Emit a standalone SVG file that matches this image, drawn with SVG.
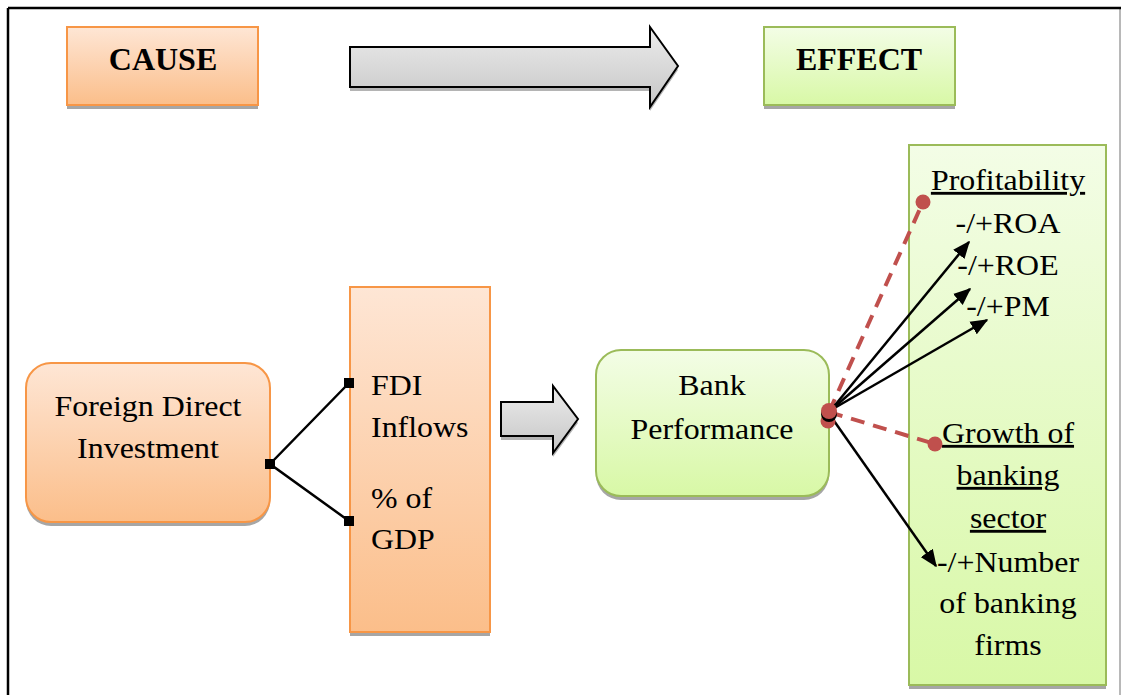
<svg xmlns="http://www.w3.org/2000/svg" width="1123" height="695" viewBox="0 0 1123 695">
<style>
.t{font-family:'Liberation Serif','Times New Roman',Times,serif;font-size:28.5px;fill:#000}
.h{font-family:'Liberation Serif','Times New Roman',Times,serif;font-size:32px;font-weight:bold;fill:#000}
.or{fill:url(#gO);stroke:#f79646;stroke-width:2}
.gr{fill:url(#gG);stroke:#9bbb59;stroke-width:2}
.sh{fill:#a6a6a6}
.bl{stroke:#000;stroke-width:2.5;fill:none}
.rd{stroke:#c0504d;stroke-width:4;fill:none;stroke-dasharray:14,9}
</style>
<defs>
<linearGradient id="gO" x1="0" y1="0" x2="0" y2="1"><stop offset="0" stop-color="#fee6d5"/><stop offset="1" stop-color="#fbbe8a"/></linearGradient>
<linearGradient id="gG" x1="0" y1="0" x2="0" y2="1"><stop offset="0" stop-color="#f3fde6"/><stop offset="1" stop-color="#d8f8a6"/></linearGradient>
<linearGradient id="gA" x1="0" y1="0" x2="0" y2="1"><stop offset="0" stop-color="#ececec"/><stop offset="1" stop-color="#c6c6c6"/></linearGradient>
<marker id="ah" viewBox="0 0 12 10" refX="11" refY="5" markerWidth="7" markerHeight="6" orient="auto" markerUnits="strokeWidth"><path d="M0,0 L12,5 L0,10 z" fill="#000"/></marker>
</defs>
<rect width="1123" height="695" fill="#fff"/>
<g id="frame">
<line x1="1120" y1="8" x2="1120" y2="695" stroke="#a0a0a0" stroke-width="1.5"/>
<line x1="8" y1="8" x2="1121" y2="8" stroke="#000" stroke-width="2.5"/>
<line x1="8" y1="8" x2="8" y2="695" stroke="#000" stroke-width="2.5"/>
</g>
<g id="cause">
<rect class="sh" x="67" y="31" width="191" height="78"/>
<rect class="or" x="67" y="27" width="191" height="78"/>
<text class="h" x="163" y="70" text-anchor="middle" font-family="Liberation Serif">CAUSE</text>
</g>
<g id="big-arrow">
<path d="M350,51 L650,51 L650,31 L678,70 L650,111 L650,91 L350,91 z" fill="#b4b4b4"/>
<path d="M350,47 L650,47 L650,27 L678,66 L650,107 L650,87 L350,87 z" fill="url(#gA)" stroke="#000" stroke-width="2"/>
</g>
<g id="effect">
<rect class="sh" x="764" y="31" width="191" height="78"/>
<rect class="gr" x="764" y="27" width="191" height="78"/>
<text class="h" x="859" y="70" text-anchor="middle" font-family="Liberation Serif">EFFECT</text>
</g>
<g id="fdi-node">
<rect class="sh" x="26" y="367" width="244" height="159" rx="25"/>
<rect class="or" x="26" y="363" width="244" height="159" rx="25"/>
<text class="t" text-anchor="middle" transform="translate(148,416) scale(1.12,1)">Foreign Direct</text>
<text class="t" text-anchor="middle" transform="translate(148,458) scale(1.12,1)">Investment</text>
</g>
<g id="measure-node">
<rect class="sh" x="350" y="291" width="140" height="345"/>
<rect class="or" x="350" y="287" width="140" height="345"/>
<text class="t" transform="translate(371,395) scale(1.12,1)">FDI</text>
<text class="t" transform="translate(371,437) scale(1.12,1)">Inflows</text>
<text class="t" transform="translate(371,508) scale(1.12,1)">% of</text>
<text class="t" transform="translate(371,549) scale(1.12,1)">GDP</text>
</g>
<g id="small-arrow">
<path d="M501,406 L553,406 L553,390 L578,423 L553,457 L553,440 L501,440 z" fill="#b4b4b4"/>
<path d="M501,402 L553,402 L553,386 L578,419 L553,453 L553,436 L501,436 z" fill="url(#gA)" stroke="#000" stroke-width="2"/>
</g>
<g id="bank-node">
<rect class="sh" x="596" y="354" width="233" height="146" rx="25"/>
<rect class="gr" x="596" y="350" width="233" height="146" rx="25"/>
<text class="t" text-anchor="middle" transform="translate(712,395) scale(1.12,1)">Bank</text>
<text class="t" text-anchor="middle" transform="translate(712,439) scale(1.12,1)">Performance</text>
</g>
<g id="effect-node">
<rect class="sh" x="909" y="149" width="197" height="540"/>
<rect class="gr" x="909" y="145" width="197" height="540"/>
<text class="t" text-anchor="middle" text-decoration="underline" transform="translate(1008,190) scale(1.12,1)">Profitability</text>
<text class="t" text-anchor="middle" transform="translate(1008,233) scale(1.12,1)">-/+ROA</text>
<text class="t" text-anchor="middle" transform="translate(1008,275) scale(1.12,1)">-/+ROE</text>
<text class="t" text-anchor="middle" transform="translate(1008,316) scale(1.12,1)">-/+PM</text>
<text class="t" text-anchor="middle" text-decoration="underline" transform="translate(1008,443) scale(1.12,1)">Growth of</text>
<text class="t" text-anchor="middle" text-decoration="underline" transform="translate(1008,485) scale(1.12,1)">banking</text>
<text class="t" text-anchor="middle" text-decoration="underline" transform="translate(1008,528) scale(1.12,1)">sector</text>
<text class="t" text-anchor="middle" transform="translate(1008,572) scale(1.12,1)">-/+Number</text>
<text class="t" text-anchor="middle" transform="translate(1008,613) scale(1.12,1)">of banking</text>
<text class="t" text-anchor="middle" transform="translate(1008,655) scale(1.12,1)">firms</text>
</g>
<g id="connectors">
<polyline class="bl" points="349,383 270,464 349,521"/>
<rect x="265" y="459" width="10" height="10" fill="#000"/>
<rect x="344" y="378" width="10" height="10" fill="#000"/>
<rect x="344" y="516" width="10" height="10" fill="#000"/>
<line class="rd" x1="829" y1="412" x2="923" y2="202"/>
<line class="rd" x1="829" y1="412" x2="935" y2="444"/>
<circle cx="923" cy="202" r="7.5" fill="#c0504d"/>
<circle cx="935" cy="444" r="7.5" fill="#c0504d"/>
<line class="bl" x1="831" y1="410" x2="969" y2="242" marker-end="url(#ah)"/>
<line class="bl" x1="831" y1="410" x2="970" y2="289" marker-end="url(#ah)"/>
<line class="bl" x1="831" y1="410" x2="987" y2="320" marker-end="url(#ah)"/>
<line class="bl" x1="832" y1="418" x2="936" y2="566" marker-end="url(#ah)"/>
<circle cx="828" cy="421" r="7.5" fill="#c0504d"/>
<circle cx="829" cy="414" r="8" fill="#000"/>
<circle cx="829" cy="411" r="8" fill="#c0504d"/>
</g>
</svg>
